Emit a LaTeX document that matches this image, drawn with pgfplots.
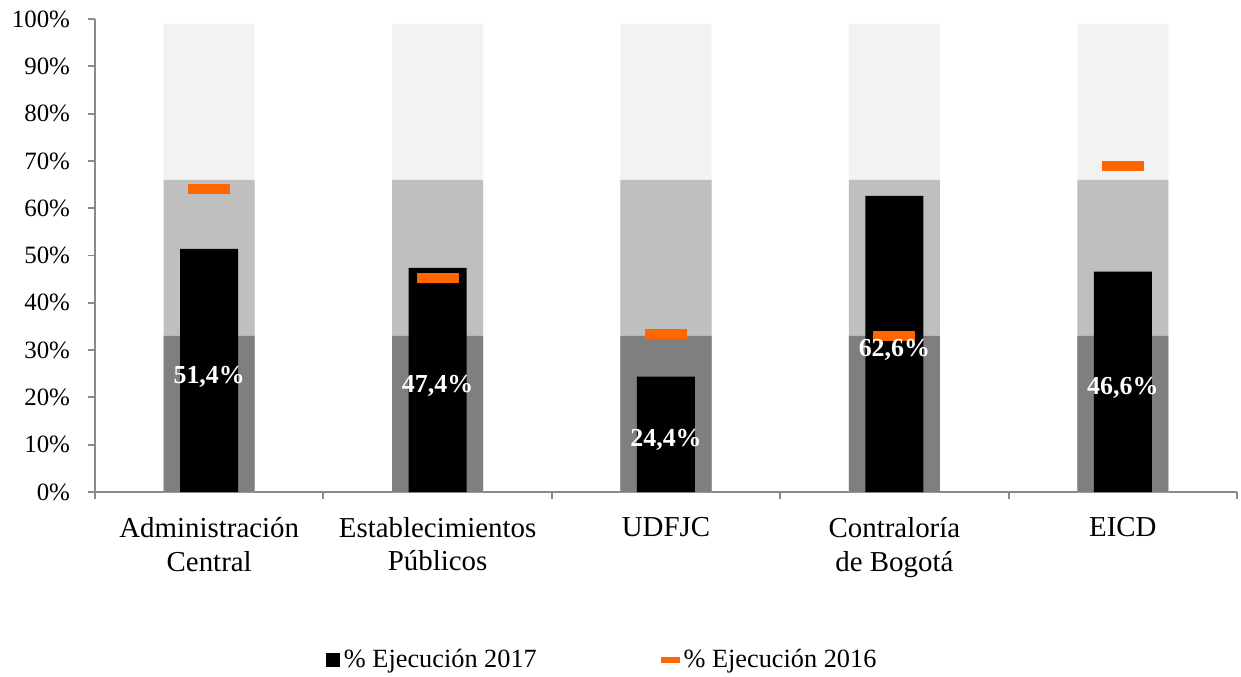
\documentclass[border=0pt]{standalone}
\usepackage{fontspec}
\setmainfont{Liberation Serif}
\usepackage{pgfplots}
\pgfplotsset{compat=1.18}
\definecolor{bandD}{HTML}{7F7F7F}
\definecolor{bandM}{HTML}{BFBFBF}
\definecolor{bandL}{HTML}{F2F2F2}
\definecolor{orng}{HTML}{FF6600}
\definecolor{axgray}{HTML}{898989}
\pgfdeclareplotmark{hbar}{\pgfpathrectangle{\pgfpoint{-10.5bp}{-2.5bp}}{\pgfpoint{21bp}{5bp}}\pgfusepathqfill}
\begin{document}
\begin{tikzpicture}
\path[use as bounding box] (-47.5bp,-92.5bp) rectangle (573bp,246bp);
\begin{axis}[
  scale only axis, width=571bp, height=236.5bp,
  xmin=-0.5, xmax=4.5, ymin=0, ymax=100,
  axis x line*=bottom, axis y line*=left,
  axis line style={draw=axgray, line width=1pt, -},
  tick align=outside,
  xtick={0,1,2,3,4},
  xticklabels={{Administración\\Central},{Establecimientos\\Públicos},{UDFJC},{Contraloría\\de Bogotá},{EICD}},
  x tick label style={align=center, font=\fontsize{14.5}{17}\selectfont, yshift=-5.5bp},
  major x tick style={draw=none},
  minor xtick={-0.5,0.5,1.5,2.5,3.5,4.5},
  minor tick length=3.5bp,
  minor x tick style={draw=axgray, line width=1pt},
  ytick={0,10,...,100},
  major tick length=3.5bp,
  ytick style={draw=axgray, line width=1pt},
  yticklabel={\pgfmathprintnumber{\tick}\%},
  /pgf/number format/assume math mode=true,
  y tick label style={font=\fontsize{12.5}{15}\selectfont, xshift=-5.5bp},
  legend style={at={(0.445,-0.355)}, anchor=center, draw=none, fill=none,
    legend columns=2, font=\fontsize{13.2}{15}\selectfont,
    /tikz/every even column/.append style={column sep=60bp}},
  legend cell align=left,
]
\addplot[ybar, bar width=45.5bp, bar shift=0pt, fill=bandL, draw=none, forget plot] coordinates {(0,99)(1,99)(2,99)(3,99)(4,99)};
\addplot[ybar, bar width=45.5bp, bar shift=0pt, fill=bandM, draw=none, forget plot] coordinates {(0,66)(1,66)(2,66)(3,66)(4,66)};
\addplot[ybar, bar width=45.5bp, bar shift=0pt, fill=bandD, draw=none, forget plot] coordinates {(0,33)(1,33)(2,33)(3,33)(4,33)};
\addplot[ybar, bar width=29bp, bar shift=0pt, fill=black, draw=none,
  legend image code/.code={\fill[black] (0bp,-3.5bp) rectangle (7bp,3.5bp);}]
  coordinates {(0,51.4)(1,47.4)(2,24.4)(3,62.6)(4,46.6)};
\addlegendentry{\% Ejecución 2017}
\addplot[only marks, mark=hbar, color=orng,
  legend image code/.code={\fill[orng] (0bp,-1.3bp) rectangle (9bp,1.3bp);}]
  coordinates {(0,64.0)(1,45.3)(2,33.5)(3,33.0)(4,68.9)};
\addlegendentry{\% Ejecución 2016}
\addplot[draw=none, mark=none, forget plot, nodes near coords, point meta=explicit symbolic,
  every node near coord/.style={anchor=center, yshift=-3bp, font=\fontsize{13}{15}\selectfont\bfseries, text=white}]
  coordinates {(0,25.7) [51,4\%] (1,23.7) [47,4\%] (2,12.2) [24,4\%] (3,31.3) [62,6\%] (4,23.3) [46,6\%]};
\end{axis}
\end{tikzpicture}
\end{document}
